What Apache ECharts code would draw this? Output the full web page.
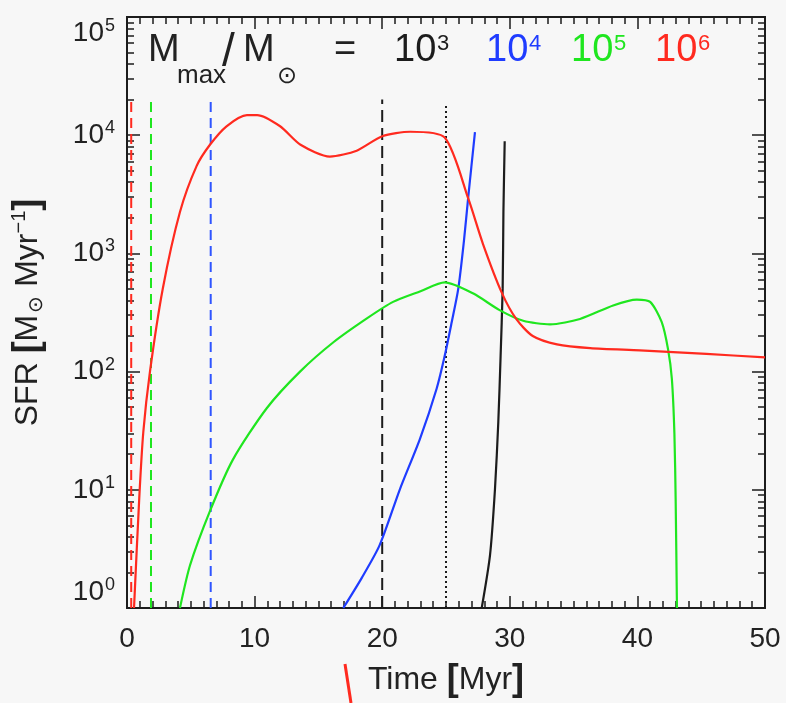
<!DOCTYPE html>
<html>
<head>
<meta charset="utf-8">
<script src="https://cdn.jsdelivr.net/npm/echarts@6/dist/echarts.min.js"></script>
<style>
  html, body { margin: 0; padding: 0; background: #f7f7f7; }
  #chart { width: 786px; height: 703px; }
</style>
</head>
<body>
<div id="chart"></div>
<script>
// Star formation rate [Msun/Myr] against time [Myr], one history per maximum cluster mass
const sfrMmax1e3 = [[27.8, 1], [28.45, 2.8], [28.84, 10.2], [29.1, 37.6], [29.28, 136], [29.44, 501], [29.5, 2240], [29.6, 8900]];
const sfrMmax1e4 = [[16.95, 1], [18.4, 1.8], [19.8, 3.4], [21.4, 10.2], [22.96, 27], [24.27, 72], [24.9, 136], [25.45, 263], [25.96, 501], [26.4, 1260], [26.75, 3050], [27.27, 10600]];
const sfrMmax1e5 = [[4.15, 1], [4.94, 2.3], [6.5, 6.6], [8.3, 18], [10.95, 49], [13.56, 100], [16.2, 178], [18.8, 282], [20.85, 389], [23, 479], [24.9, 569], [27.15, 457], [29.2, 331], [31.05, 269], [33.15, 251], [35.5, 279], [38.1, 363], [39.95, 407], [41, 389], [41.9, 263], [42.4, 155], [42.7, 87], [42.9, 30], [43.0, 8], [43.1, 1]];
const sfrMmax1e6 = [[0.55, 1], [0.96, 8.5], [1.28, 31], [1.8, 100], [2.8, 500], [4.15, 2240], [5.46, 5500], [6.5, 8300], [7.8, 11900], [9.4, 14800], [10.2, 14800], [12, 11900], [13.6, 8300], [15.9, 6600], [18, 7400], [20, 9800], [22.2, 10700], [24.9, 9550], [26.75, 2900], [27.9, 1200], [29.36, 468], [30.5, 279], [31.8, 200], [33.7, 170], [36.3, 158], [40.2, 151], [45.4, 141], [50, 132]];

// Reference times drawn as vertical lines, and how high each one reaches
const markerTimes = [0.33, 1.88, 6.56, 20, 25];
const markerTops = [20000, 20000, 20000, 20000, 18500];

// Axis ranges and tick labels
const timeRange = [0, 50];
const timeStep = 10;
const sfrDecades = [1, 10, 100, 1000, 10000, 100000];
const massExponents = [3, 4, 5, 6];

const RED = '#ff2a1f', GREEN = '#1fe61f', BLUE = '#1f3cff', BLACK = '#1c1c1c';
const TEXT = '#222222';
const FONT = '"Liberation Sans", Arial, sans-serif';

const curveColors = [BLACK, BLUE, GREEN, RED];
const curves = [sfrMmax1e3, sfrMmax1e4, sfrMmax1e5, sfrMmax1e6];
const markerColors = [RED, GREEN, '#2f55ff', BLACK, BLACK];
const markerDash = [[10, 6], [10, 6], [10, 6], [12, 6], [2, 3]];

// minor log ticks 2..9 in every decade
const minorSfrTicks = [];
for (let i = 0; i < sfrDecades.length - 1; i++) {
  for (let k = 2; k <= 9; k++) minorSfrTicks.push(k * sfrDecades[i]);
}

const chart = echarts.init(document.getElementById('chart'), null, { renderer: 'canvas' });

const axisLine = { show: true, lineStyle: { color: BLACK, width: 2 } };
const tickStyle = { color: BLACK, width: 1.5 };

const series = [];
curves.forEach((data, i) => {
  series.push({
    type: 'line', data: data, xAxisIndex: 0, yAxisIndex: 0,
    showSymbol: false, smooth: 0.25,
    lineStyle: { color: curveColors[i], width: 2.2 }, z: 3 + i
  });
});
markerTimes.forEach((t, i) => {
  series.push({
    type: 'line', data: [[t, sfrDecades[0]], [t, markerTops[i]]],
    xAxisIndex: 0, yAxisIndex: 0, showSymbol: false,
    lineStyle: { color: markerColors[i], width: 2, type: markerDash[i] }, z: 2
  });
});

// header "Mmax/Msun = 10^3 10^4 10^5 10^6"
const graphics = [];
function addText(text, x, y, size, color) {
  graphics.push({
    type: 'text', x: x, y: y, silent: true,
    style: { text: text, fill: color, font: size + 'px ' + FONT, verticalAlign: 'top', align: 'left' }
  });
}
addText('M', 148, 32, 38, TEXT);
addText('max', 177, 63, 26, TEXT);
addText('/', 222, 30, 46, TEXT);
addText('M', 243, 32, 38, TEXT);
addText('\u2299', 277, 64, 24, TEXT);
addText('=', 334, 32, 38, TEXT);
const headX = [394, 486, 571, 655];
massExponents.forEach((e, i) => {
  addText('10', headX[i], 32, 38, curveColors[i]);
  addText(String(e), headX[i] + 43, 33, 22, curveColors[i]);
});
// short red stroke below the axis
graphics.push({
  type: 'line', silent: true,
  shape: { x1: 345, y1: 664, x2: 351, y2: 703 },
  style: { stroke: RED, lineWidth: 3 }
});

// log axis with ticks at the given values only
function sfrAxis(position, ticks, len, extra) {
  return Object.assign({
    type: 'log', position: position,
    min: sfrDecades[0], max: sfrDecades[sfrDecades.length - 1],
    axisLine: axisLine,
    axisTick: { show: true, inside: true, length: len, customValues: ticks, lineStyle: tickStyle },
    splitLine: { show: false },
    axisLabel: { show: false }
  }, extra || {});
}

const option = {
  backgroundColor: '#f7f7f7',
  animation: false,
  grid: { left: 127, right: 21, top: 17, bottom: 93 },
  xAxis: [
    {
      type: 'value', position: 'bottom', min: timeRange[0], max: timeRange[1], interval: timeStep,
      axisLine: axisLine,
      axisTick: { show: true, inside: true, length: 12, lineStyle: tickStyle },
      minorTick: { show: true, splitNumber: 10, length: 7, lineStyle: tickStyle },
      splitLine: { show: false }, minorSplitLine: { show: false },
      axisLabel: { fontSize: 28, color: TEXT, fontFamily: FONT, margin: 17 },
      name: '{t|Time }{b|[}{t|Myr}{b|]}', nameLocation: 'middle', nameGap: 54,
      nameTextStyle: {
        color: TEXT, fontFamily: FONT, fontSize: 32,
        rich: { t: { fontSize: 32, fontFamily: FONT, color: TEXT }, b: { fontSize: 36, fontWeight: 'bold', fontFamily: FONT, color: TEXT } }
      }
    },
    {
      type: 'value', position: 'top', min: timeRange[0], max: timeRange[1], interval: timeStep,
      axisLine: axisLine,
      axisTick: { show: true, inside: true, length: 12, lineStyle: tickStyle },
      minorTick: { show: true, splitNumber: 10, length: 7, lineStyle: tickStyle },
      splitLine: { show: false }, axisLabel: { show: false }
    }
  ],
  yAxis: [
    sfrAxis('left', sfrDecades, 13, {
      axisLabel: {
        show: true, customValues: sfrDecades,
        color: TEXT, fontFamily: FONT, fontSize: 28, margin: 12,
        verticalAlignMaxLabel: 'top', verticalAlignMinLabel: 'bottom',
        formatter: v => '10{s|' + Math.round(Math.log10(v)) + '}',
        rich: { s: { fontSize: 18, fontFamily: FONT, color: TEXT, padding: [0, 0, 14, 1] } }
      },
      name: '{t|SFR }{b|[}{t|M}{sub|\u2299}{t| Myr}{sup|\u22121}{b|]}',
      nameLocation: 'middle', nameRotate: 90, nameGap: 80,
      nameTextStyle: {
        color: TEXT, fontFamily: FONT, fontSize: 32,
        rich: {
          t: { fontSize: 32, fontFamily: FONT, color: TEXT },
          b: { fontSize: 36, fontWeight: 'bold', fontFamily: FONT, color: TEXT },
          sub: { fontSize: 20, fontFamily: FONT, color: TEXT, padding: [16, 0, 0, 2] },
          sup: { fontSize: 20, fontFamily: FONT, color: TEXT, padding: [0, 0, 18, 0] }
        }
      }
    }),
    sfrAxis('left', minorSfrTicks, 7),
    sfrAxis('right', sfrDecades, 13),
    sfrAxis('right', minorSfrTicks, 7)
  ],
  graphic: graphics,
  series: series
};

chart.setOption(option);
</script>
</body>
</html>
